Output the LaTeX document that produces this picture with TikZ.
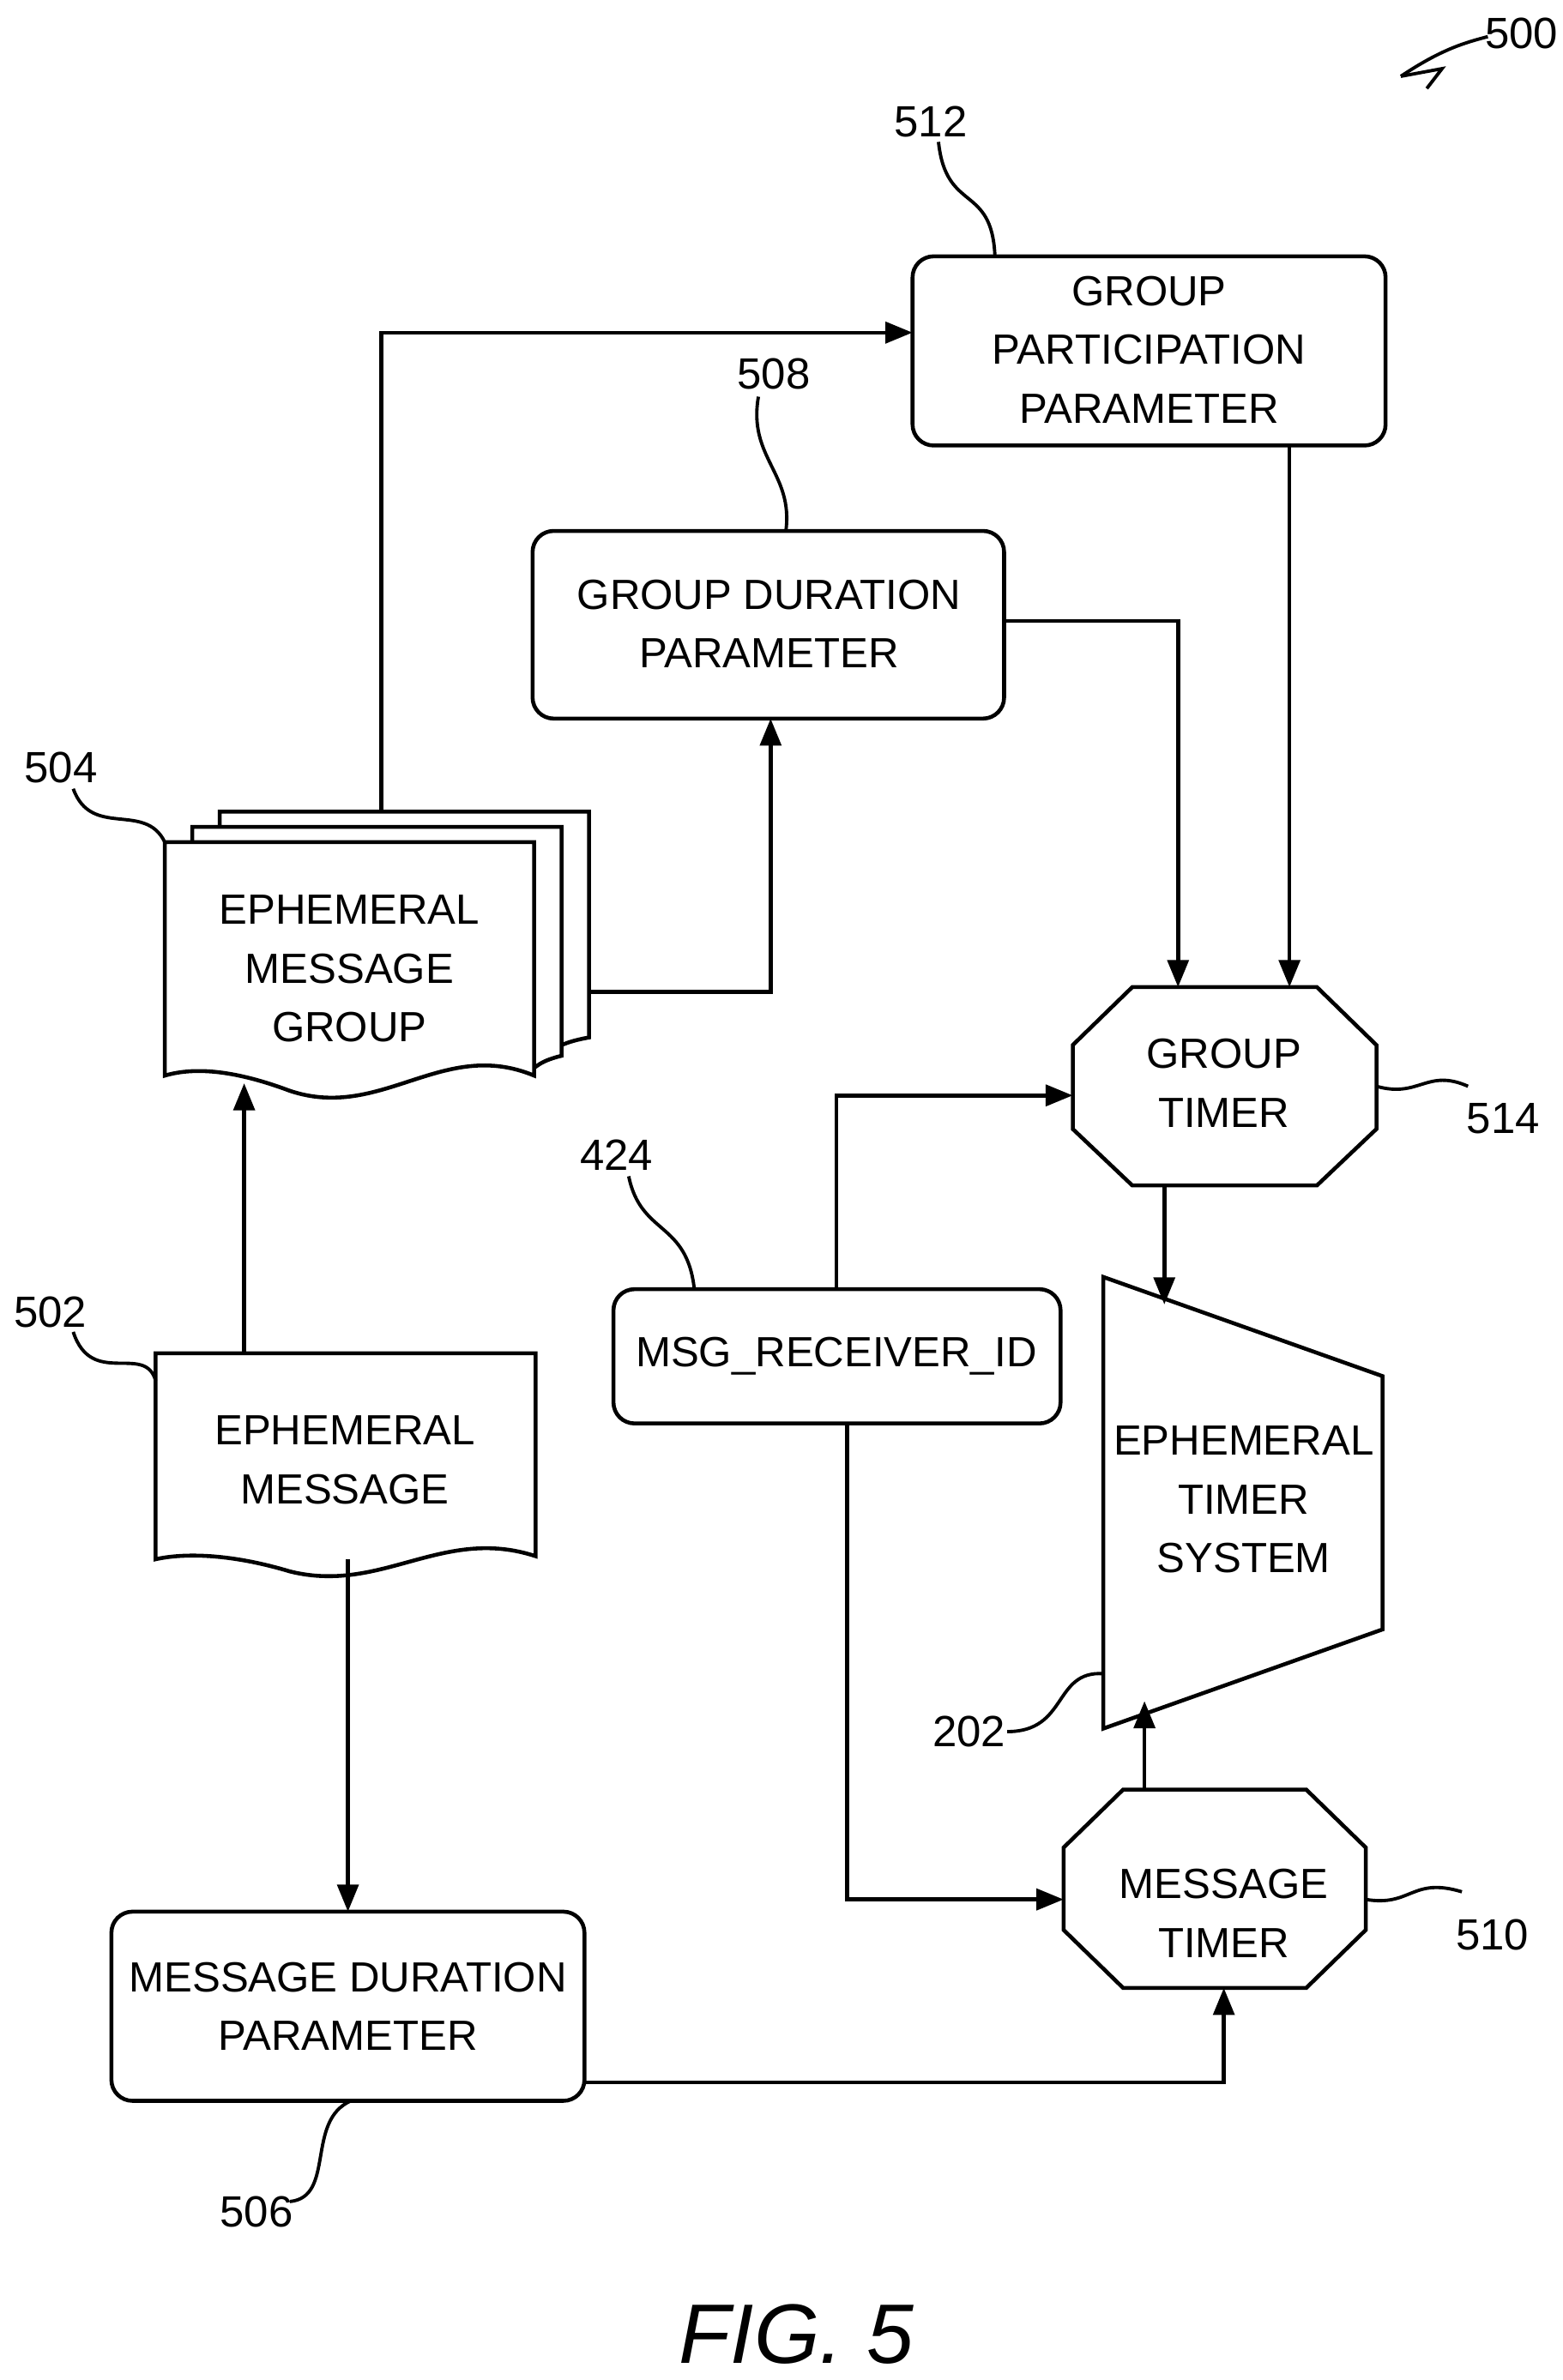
\documentclass[tikz,border=0pt]{standalone}
\usepackage{fontspec}
\setmainfont{Liberation Sans}
\usetikzlibrary{arrows.meta}
\begin{document}
\begin{tikzpicture}[x=0.017793cm,y=-0.017793cm,
  line width=1.3pt,
  txt/.style={font=\fontsize{14}{19.5}\selectfont,align=center,inner sep=0},
  lbl/.style={font=\fontsize{14.5}{19}\selectfont,inner sep=0},
  rbox/.style={draw,rounded corners=7pt},
  arr/.style={-{Triangle[length=9pt,width=7pt]}},
  sq/.style={line width=1.1pt}]
\useasboundingbox (0,0) rectangle (1024,1560);
% boxes
\draw[rbox] (598,168) rectangle (908,292);
\node[txt] (gpp) at (753,229) {GROUP\\PARTICIPATION\\PARAMETER};
\draw[rbox] (349,348) rectangle (658,471);
\node[txt] (gdp) at (504,409) {GROUP DURATION\\PARAMETER};
\draw[rbox] (73,1253) rectangle (383,1377);
\node[txt] (mdp) at (228,1315) {MESSAGE DURATION\\PARAMETER};
\draw[rbox] (402,845) rectangle (695,933);
\node[txt] (rid) at (548,889) {MSG\_RECEIVER\_ID};
% document stack 504
\draw[fill=white] (144,532) -- (386,532) -- (386,680) .. controls (375,682) and (370,684) .. (366,686) -- (144,600) -- cycle;
\draw[fill=white] (126,542) -- (368,542) -- (368,692) .. controls (360,694) and (355,696) .. (350,700) -- (126,610) -- cycle;
\draw[fill=white] (108,552) -- (350,552) -- (350,705) .. controls (290,680) and (250,735) .. (190,715) .. controls (150,700) and (125,700) .. (108,705) -- cycle;
\node[txt] (emg) at (229,635) {EPHEMERAL\\MESSAGE\\GROUP};
% doc 502
\draw (102,887) -- (351,887) -- (351,1020) .. controls (290,1000) and (250,1045) .. (190,1030) .. controls (150,1018) and (120,1018) .. (102,1022) -- cycle;
\node[txt] (em) at (226,957) {EPHEMERAL\\MESSAGE};
% octagons
\draw (742,647) -- (863,647) -- (902,685) -- (902,740) -- (863,777) -- (742,777) -- (703,740) -- (703,685) -- cycle;
\node[txt] (gt) at (802,710) {GROUP\\TIMER};
\draw (736,1173) -- (856,1173) -- (895,1211) -- (895,1265) -- (856,1303) -- (736,1303) -- (697,1265) -- (697,1211) -- cycle;
\node[txt] (mt) at (802,1254) {MESSAGE\\TIMER};
% trapezoid
\draw (723,837) -- (906,902) -- (906,1068) -- (723,1133) -- cycle;
\node[txt] (ets) at (815,983) {EPHEMERAL\\TIMER\\SYSTEM};
% arrows
\coordinate (a1) at (250,532); \coordinate (a1e) at (598,218);
\draw[arr] (a1) |- (a1e);
\coordinate (a2) at (845,292); \coordinate (a2e) at (845,647);
\draw[arr] (a2) -- (a2e);
\coordinate (a3) at (658,407); \coordinate (a3e) at (772,647);
\draw[arr] (a3) -| (a3e);
\coordinate (a4) at (386,650); \coordinate (a4e) at (505,471);
\draw[arr] (a4) -| (a4e);
\coordinate (a5) at (160,887); \coordinate (a5e) at (160,710);
\draw[arr] (a5) -- (a5e);
\coordinate (a6) at (548,845); \coordinate (a6e) at (703,718);
\draw[arr] (a6) |- (a6e);
\coordinate (a7) at (763,777); \coordinate (a7e) at (763,855);
\draw[arr] (a7) -- (a7e);
\coordinate (a8) at (555,933); \coordinate (a8e) at (697,1245);
\draw[arr] (a8) |- (a8e);
\coordinate (a9) at (228,1022); \coordinate (a9e) at (228,1253);
\draw[arr] (a9) -- (a9e);
\coordinate (a10) at (383,1365); \coordinate (a10e) at (802,1303);
\draw[arr] (a10) -| (a10e);
\coordinate (a11) at (750,1173); \coordinate (a11e) at (750,1115);
\draw[arr] (a11) -- (a11e);
% labels with squiggles
\node[lbl] (l512) at (610,80) {512};
\draw[sq] (615,93) .. controls (620,140) and (650,120) .. (652,168);
\node[lbl] (l508) at (507,245) {508};
\draw[sq] (497,260) .. controls (490,300) and (520,310) .. (515,348);
\node[lbl] (l504) at (40,503) {504};
\draw[sq] (48,517) .. controls (60,550) and (95,525) .. (108,552);
\node[lbl] (l502) at (33,860) {502};
\draw[sq] (48,873) .. controls (60,910) and (95,880) .. (102,905);
\node[lbl] (l424) at (404,757) {424};
\draw[sq] (412,771) .. controls (420,810) and (450,800) .. (455,845);
\node[lbl] (l514) at (985,733) {514};
\draw[sq] (902,712) .. controls (930,720) and (935,700) .. (962,712);
\node[lbl] (l202) at (635,1135) {202};
\draw[sq] (660,1135) .. controls (700,1135) and (690,1095) .. (723,1097);
\node[lbl] (l510) at (978,1268) {510};
\draw[sq] (895,1245) .. controls (925,1250) and (925,1230) .. (958,1240);
\node[lbl] (l506) at (168,1450) {506};
\draw[sq] (190,1443) .. controls (220,1440) and (200,1390) .. (230,1377);
\node[lbl] (l500) at (997,22) {500};
\draw[sq] (975,24) .. controls (960,28) and (945,32) .. (918,50);
\draw[sq] (918,50) -- (945,45) -- (935,58);
\node[font=\fontsize{28}{30}\selectfont\itshape,inner sep=0] (fig) at (522,1530) {FIG. 5};
\end{tikzpicture}
\end{document}
